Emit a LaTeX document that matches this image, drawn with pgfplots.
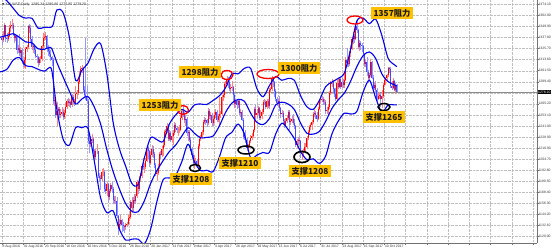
\documentclass[border=0pt]{standalone}
\usepackage{pgfplots}
\pgfplotsset{compat=1.18}
\usepackage{pgfplotstable}
\usepackage{fontspec}
\setmainfont{Liberation Sans}
\newfontfamily\cjk{Noto Sans CJK SC}
\newfontfamily\sym{DejaVu Sans}
\definecolor{bandblue}{RGB}{0,0,235}
\definecolor{upc}{RGB}{255,0,0}
\definecolor{dnc}{RGB}{70,70,255}
\definecolor{upw}{RGB}{255,130,130}
\definecolor{dnw}{RGB}{150,150,255}
\definecolor{tagfill}{RGB}{255,192,0}

\pgfplotstableread{
i o h l c
0 1337 1342 1330 1335
1 1335 1345 1333 1340
2 1340 1354 1338 1351
3 1351 1352 1333 1337
4 1337 1343 1332 1336
5 1336 1344 1334 1340
6 1340 1351 1338 1348
7 1348 1356 1344 1350
8 1350 1358 1347 1352
9 1352 1354 1339 1341
10 1341 1343 1332 1337
11 1337 1342 1334 1339
12 1339 1341 1320 1324
13 1324 1330 1321 1326
14 1326 1342 1318 1321
15 1321 1327 1317 1324
16 1324 1326 1309 1312
17 1312 1314 1305 1308
18 1308 1316 1304 1313
19 1313 1327 1303 1325
20 1325 1330 1322 1327
21 1327 1352 1325 1350
22 1350 1353 1343 1348
23 1348 1352 1333 1336
24 1336 1339 1324 1327
25 1327 1331 1321 1328
26 1328 1330 1320 1324
27 1324 1327 1315 1318
28 1318 1320 1310 1316
29 1316 1318 1306 1310
30 1310 1317 1308 1314
31 1314 1318 1310 1314
32 1314 1330 1312 1328
33 1328 1343 1326 1337
34 1337 1342 1334 1338
35 1338 1344 1335 1339
36 1339 1341 1322 1326
37 1326 1330 1318 1323
38 1323 1327 1317 1320
39 1320 1324 1312 1316
40 1316 1318 1307 1313
41 1313 1315 1265 1268
42 1268 1275 1263 1269
43 1269 1271 1250 1253
44 1253 1267 1241 1257
45 1257 1262 1251 1259
46 1259 1262 1250 1253
47 1253 1259 1250 1254
48 1254 1262 1252 1256
49 1256 1260 1248 1251
50 1251 1258 1249 1255
51 1255 1266 1253 1262
52 1262 1271 1260 1268
53 1268 1272 1263 1266
54 1266 1270 1262 1267
55 1267 1268 1261 1264
56 1264 1276 1262 1273
57 1273 1275 1265 1267
58 1267 1270 1263 1266
59 1266 1285 1265 1276
60 1276 1280 1271 1277
61 1277 1291 1275 1289
62 1289 1301 1287 1297
63 1297 1307 1295 1303
64 1303 1308 1299 1304
65 1304 1305 1277 1280
66 1280 1285 1273 1275
67 1275 1337 1269 1274
68 1274 1285 1265 1268
69 1268 1270 1221 1225
70 1225 1233 1211 1221
71 1221 1230 1218 1225
72 1225 1232 1222 1227
73 1227 1229 1211 1214
74 1214 1216 1204 1207
75 1207 1216 1205 1213
76 1213 1221 1210 1213
77 1213 1214 1184 1186
78 1186 1190 1180 1184
79 1184 1187 1171 1183
80 1183 1194 1180 1191
81 1191 1195 1186 1191
82 1191 1193 1169 1172
83 1172 1178 1167 1170
84 1170 1180 1164 1177
85 1177 1178 1157 1163
86 1163 1172 1160 1170
87 1170 1179 1168 1176
88 1176 1180 1168 1172
89 1172 1174 1156 1160
90 1160 1164 1155 1159
91 1159 1164 1155 1159
92 1159 1163 1140 1142
93 1142 1143 1122 1128
94 1128 1139 1126 1134
95 1134 1143 1132 1138
96 1138 1139 1125 1133
97 1133 1136 1126 1131
98 1131 1133 1124 1130
99 1130 1135 1127 1132
100 1132 1136 1130 1134
101 1134 1143 1133 1140
102 1140 1145 1137 1141
103 1141 1160 1139 1158
104 1158 1163 1146 1151
105 1151 1163 1148 1160
106 1160 1166 1155 1159
107 1159 1167 1156 1164
108 1164 1182 1162 1180
109 1180 1181 1167 1172
110 1172 1186 1170 1184
111 1184 1189 1180 1186
112 1186 1200 1184 1197
113 1197 1206 1193 1196
114 1196 1200 1190 1196
115 1196 1206 1194 1203
116 1203 1219 1201 1217
117 1217 1219 1205 1213
118 1213 1215 1196 1200
119 1200 1212 1198 1209
120 1209 1220 1207 1216
121 1216 1219 1206 1210
122 1210 1212 1195 1198
123 1198 1200 1186 1189
124 1189 1193 1181 1190
125 1190 1199 1187 1196
126 1196 1212 1194 1210
127 1210 1213 1205 1209
128 1209 1219 1207 1216
129 1216 1223 1208 1220
130 1220 1236 1218 1234
131 1234 1238 1229 1235
132 1235 1244 1233 1241
133 1241 1243 1224 1227
134 1227 1236 1225 1233
135 1233 1235 1223 1226
136 1226 1233 1223 1230
137 1230 1237 1220 1233
138 1233 1245 1231 1242
139 1242 1244 1234 1239
140 1239 1241 1233 1236
141 1236 1240 1230 1236
142 1236 1242 1233 1236
143 1236 1253 1235 1250
144 1250 1259 1247 1257
145 1257 1263 1251 1254
146 1254 1256 1244 1248
147 1248 1253 1241 1249
148 1249 1251 1230 1233
149 1233 1237 1224 1234
150 1234 1236 1223 1226
151 1226 1229 1213 1216
152 1216 1218 1205 1209
153 1209 1211 1197 1200
154 1200 1209 1194 1203
155 1203 1206 1199 1203
156 1203 1205 1195 1198
157 1198 1221 1196 1219
158 1219 1230 1216 1227
159 1227 1231 1225 1229
160 1229 1237 1227 1234
161 1234 1247 1231 1245
162 1245 1251 1243 1248
163 1248 1250 1242 1247
164 1247 1249 1240 1244
165 1244 1261 1242 1257
166 1257 1259 1249 1252
167 1252 1256 1248 1253
168 1253 1255 1241 1244
169 1244 1252 1241 1249
170 1249 1256 1244 1253
171 1253 1259 1250 1256
172 1256 1258 1245 1248
173 1248 1254 1245 1252
174 1252 1273 1240 1254
175 1254 1257 1250 1254
176 1254 1275 1252 1273
177 1273 1280 1268 1275
178 1275 1289 1272 1287
179 1287 1290 1284 1287
180 1287 1296 1285 1291
181 1291 1295 1283 1289
182 1289 1291 1279 1281
183 1281 1287 1278 1282
184 1282 1290 1279 1284
185 1284 1285 1266 1275
186 1275 1277 1261 1265
187 1265 1270 1261 1268
188 1268 1270 1260 1264
189 1264 1270 1261 1268
190 1268 1270 1253 1255
191 1255 1259 1251 1256
192 1256 1258 1246 1248
193 1248 1250 1227 1229
194 1229 1234 1226 1228
195 1228 1236 1222 1226
196 1226 1228 1214 1217
197 1217 1221 1214 1219
198 1219 1226 1217 1225
199 1225 1231 1222 1228
200 1228 1233 1226 1230
201 1230 1238 1228 1236
202 1236 1262 1234 1259
203 1259 1264 1245 1253
204 1253 1259 1250 1255
205 1255 1263 1253 1261
206 1261 1262 1247 1250
207 1250 1258 1248 1252
208 1252 1259 1249 1256
209 1256 1269 1254 1267
210 1267 1270 1264 1267
211 1267 1269 1259 1262
212 1262 1270 1260 1268
213 1268 1271 1261 1263
214 1263 1283 1260 1280
215 1280 1284 1277 1281
216 1281 1296 1279 1293
217 1293 1295 1284 1289
218 1289 1290 1273 1279
219 1279 1281 1268 1271
220 1271 1273 1263 1266
221 1266 1271 1262 1268
222 1268 1274 1257 1261
223 1261 1262 1250 1254
224 1254 1258 1251 1255
225 1255 1257 1244 1246
226 1246 1249 1239 1242
227 1242 1250 1240 1246
228 1246 1253 1244 1250
229 1250 1258 1248 1256
230 1256 1258 1237 1245
231 1245 1250 1242 1246
232 1246 1252 1244 1249
233 1249 1254 1242 1244
234 1244 1249 1238 1241
235 1241 1242 1218 1220
236 1220 1227 1217 1225
237 1225 1229 1220 1226
238 1226 1230 1221 1224
239 1224 1226 1206 1212
240 1212 1215 1204 1212
241 1212 1216 1207 1214
242 1214 1222 1212 1218
243 1218 1222 1213 1218
244 1218 1230 1216 1228
245 1228 1236 1226 1234
246 1234 1242 1232 1240
247 1240 1244 1236 1242
248 1242 1247 1237 1245
249 1245 1256 1243 1254
250 1254 1259 1251 1255
251 1255 1257 1249 1253
252 1253 1256 1245 1249
253 1249 1262 1247 1260
254 1260 1270 1258 1269
255 1269 1273 1266 1269
256 1269 1274 1267 1270
257 1270 1273 1264 1267
258 1267 1271 1264 1267
259 1267 1269 1254 1257
260 1257 1262 1254 1258
261 1258 1265 1252 1262
262 1262 1279 1260 1277
263 1277 1290 1275 1287
264 1287 1292 1284 1289
265 1289 1291 1278 1281
266 1281 1283 1273 1276
267 1276 1282 1268 1271
268 1271 1291 1269 1288
269 1288 1292 1281 1284
270 1284 1294 1283 1292
271 1292 1293 1281 1284
272 1284 1293 1283 1289
273 1289 1292 1283 1286
274 1286 1298 1282 1291
275 1291 1316 1290 1313
276 1313 1326 1306 1310
277 1310 1314 1305 1309
278 1309 1323 1307 1321
279 1321 1330 1316 1325
280 1325 1338 1324 1336
281 1336 1344 1331 1339
282 1339 1342 1332 1336
283 1336 1352 1335 1350
284 1350 1357 1343 1346
285 1346 1347 1325 1327
286 1327 1335 1323 1332
287 1332 1334 1324 1330
288 1330 1332 1322 1329
289 1329 1330 1315 1320
290 1320 1321 1306 1309
291 1309 1314 1305 1311
292 1311 1316 1296 1300
293 1300 1302 1288 1293
294 1293 1299 1291 1297
295 1297 1314 1295 1311
296 1311 1312 1292 1294
297 1294 1297 1281 1283
298 1283 1289 1280 1286
299 1286 1290 1277 1280
300 1280 1282 1268 1271
301 1271 1277 1269 1274
302 1274 1278 1270 1275
303 1275 1277 1262 1270
304 1270 1280 1261 1274
305 1274 1288 1272 1286
306 1286 1294 1284 1291
307 1291 1295 1286 1293
308 1293 1298 1290 1297
309 1297 1306 1295 1304
310 1304 1306 1299 1303
311 1303 1305 1282 1285
312 1285 1290 1280 1283
313 1283 1293 1281 1290
314 1290 1291 1279 1280
315 1280 1288 1276 1286
316 1286.34 1286.86 1277.85 1278.20
}\ohlc

\pgfplotstableread{
i U M L
-2 1385 1338 1300
4 1378 1340 1303
9 1370 1342 1313
14 1362 1338 1316
19 1359 1333 1307
24 1359 1332 1306
29 1348 1325.5 1303
34 1349 1325 1301
39 1349 1327 1305
41 1352 1322 1292
44 1368 1310.5 1259
49 1365 1294.5 1226.5
54 1338 1279 1220
59 1291 1265 1239
64 1302 1270.5 1239
69 1310 1273 1238
74 1326 1261.5 1202
79 1331 1243 1162
84 1298 1215 1146
89 1245 1191 1148
94 1216 1172 1128
99 1197 1156 1116
104 1178 1147.5 1117
109 1177 1147 1117
114 1206 1159 1112
119 1228 1178 1128
124 1226 1192 1158
129 1224 1203 1182
134 1243 1213 1184
139 1253 1220 1187
144 1259 1230 1202
149 1256 1239 1221
154 1264 1233 1202
159 1265 1228 1192
164 1264.5 1228.5 1192.5
169 1269 1230 1191
174 1274 1241 1207
179 1283 1256 1228
184 1298 1266 1234
189 1298 1270 1243
194 1304 1268 1232
199 1304 1255 1206
204 1282 1245 1209
209 1273 1242.5 1212
214 1285 1249 1212
219 1295 1264 1232
224 1291 1267 1244
229 1293 1265 1237
234 1291 1259 1227
239 1274 1244 1213
244 1262 1233 1204
249 1259 1232 1205
254 1269 1235 1200
259 1284 1246 1208
264 1289 1260 1232
269 1293 1269.5 1246
274 1299 1277 1255
279 1325 1290 1254
284 1356 1306 1257
289 1359 1318 1278
294 1353 1322 1291
299 1358 1315 1272
304 1340 1298 1256
309 1315 1289.5 1264
314 1308 1286 1264
316 1306 1285 1264
}\bands

\begin{document}
\begin{tikzpicture}
\begin{axis}[name=ax,
  width=537bp, height=243bp, scale only axis,
  xmin=-1.5, xmax=428.1, ymin=1112.8, ymax=1378.9,
  axis x line*=bottom, axis y line*=right,
  axis line style={black!55, line width=0.5bp},
  xtick={0,17,...,425},
  xticklabels={8 Aug 2016, 31 Aug 2016, 23 Sep 2016, 18 Oct 2016, 10 Nov 2016, 5 Dec 2016, 28 Dec 2016, 20 Jan 2017, 14 Feb 2017, 9 Mar 2017, 3 Apr 2017, 26 Apr 2017, 19 May 2017, 13 Jun 2017, 6 Jul 2017, 31 Jul 2017, 23 Aug 2017, 15 Sep 2017, 10 Oct 2017, {}, {}, {}, {}, {}, {}, {}},
  ytick={1120.0,1132.1,...,1374.2},
  scaled y ticks=false,
  grid=major,
  major grid style={black!25, densely dotted, line width=0.35bp},
  tick style={black!55, line width=0.4bp},
  major tick length=1.8bp, tick align=outside,
  ticklabel style={font=\fontsize{3.4}{4}\selectfont, text=black!80},
  xticklabel style={anchor=north west, xshift=-0.3bp, yshift=0.4bp, inner sep=0.8bp},
  yticklabel style={anchor=west, xshift=-1.2bp, inner sep=0.8bp, /pgf/number format/fixed, /pgf/number format/fixed zerofill, /pgf/number format/precision=2, /pgf/number format/1000 sep={}},
  /pgf/number format/assume math mode=true,
  clip mode=individual,
]
% current price line
\addplot[black!45, line width=0.5bp] coordinates {(-1.5,1278.2) (428.1,1278.2)};
% wicks
\addplot[upw, line width=0.35bp, quiver={u=0, v=\thisrow{h}-\thisrow{l}},
  restrict expr to domain={\thisrow{c}-\thisrow{o}}{0:1000}] table[x=i, y=l] {\ohlc};
\addplot[dnw, line width=0.35bp, quiver={u=0, v=\thisrow{h}-\thisrow{l}},
  restrict expr to domain={\thisrow{c}-\thisrow{o}}{-1000:-0.001}] table[x=i, y=l] {\ohlc};
% bodies
\addplot[upc, line width=0.95bp, quiver={u=0, v=\thisrow{c}-\thisrow{o}},
  restrict expr to domain={\thisrow{c}-\thisrow{o}}{0:1000}] table[x=i, y=o] {\ohlc};
\addplot[dnc, line width=0.95bp, quiver={u=0, v=\thisrow{c}-\thisrow{o}},
  restrict expr to domain={\thisrow{c}-\thisrow{o}}{-1000:-0.001}] table[x=i, y=o] {\ohlc};
% Bollinger bands
\addplot[bandblue, line width=1.1bp, smooth, tension=0.5] table[x=i, y=U] {\bands};
\addplot[bandblue, line width=1.1bp, smooth, tension=0.5] table[x=i, y=M] {\bands};
\addplot[bandblue, line width=1.1bp, smooth, tension=0.5] table[x=i, y=L] {\bands};
\end{axis}
% price tag on the right axis
\node[fill=black, text=white, inner xsep=0.6bp, inner ysep=0.7bp, anchor=west, font=\fontsize{3.4}{4}\selectfont]
  at ([shift={(0.4bp,-92bp)}]ax.north east) {1278.20};
% chart title
\node[anchor=west, inner sep=0pt, font=\fontsize{3.6}{4.3}\selectfont, text=black!80]
  at ([shift={(2bp,-4.5bp)}]ax.north west) {{\sym\fontsize{3}{4}\selectfont ▼} XAUUSD,Daily\ \ 1286.34 1286.86 1277.85 1278.20};
% annotations
\tikzset{tag/.style={fill=tagfill, text=black!90, inner xsep=2.2bp, inner ysep=1.8bp, font=\cjk\bfseries\fontsize{8.3}{9}\selectfont}}
\draw[red, line width=1.3bp] ([shift={(183bp,-110bp)}]ax.north west) ellipse [x radius=5.5bp, y radius=4.5bp];
\draw[red, line width=1.3bp] ([shift={(227bp,-75bp)}]ax.north west) ellipse [x radius=6bp, y radius=4.5bp];
\draw[red, line width=1.3bp] ([shift={(268bp,-74bp)}]ax.north west) ellipse [x radius=11bp, y radius=4.5bp];
\draw[red, line width=1.3bp] ([shift={(355bp,-20bp)}]ax.north west) ellipse [x radius=8bp, y radius=4bp];
\draw[black, line width=1.5bp] ([shift={(195bp,-168bp)}]ax.north west) ellipse [x radius=5.5bp, y radius=3.5bp];
\draw[black, line width=1.5bp] ([shift={(246bp,-150bp)}]ax.north west) ellipse [x radius=8bp, y radius=4bp];
\draw[black, line width=1.7bp] ([shift={(302bp,-157bp)}]ax.north west) ellipse [x radius=8bp, y radius=5.5bp];
\draw[black, line width=1.5bp] ([shift={(384bp,-107bp)}]ax.north west) ellipse [x radius=6bp, y radius=3.5bp];
\node[tag] at ([shift={(160bp,-105bp)}]ax.north west) {1253阻力};
\node[tag] at ([shift={(200bp,-72bp)}]ax.north west) {1298阻力};
\node[tag] at ([shift={(299bp,-68bp)}]ax.north west) {1300阻力};
\node[tag] at ([shift={(392bp,-13bp)}]ax.north west) {1357阻力};
\node[tag] at ([shift={(191bp,-179bp)}]ax.north west) {支撑1208};
\node[tag] at ([shift={(240bp,-163bp)}]ax.north west) {支撑1210};
\node[tag] at ([shift={(310bp,-171bp)}]ax.north west) {支撑1208};
\node[tag] at ([shift={(384bp,-117bp)}]ax.north west) {支撑1265};
\pgfresetboundingbox
\path[use as bounding box] ([yshift=-9bp]ax.south west) rectangle ([xshift=17bp]ax.north east);
\end{tikzpicture}
\end{document}
